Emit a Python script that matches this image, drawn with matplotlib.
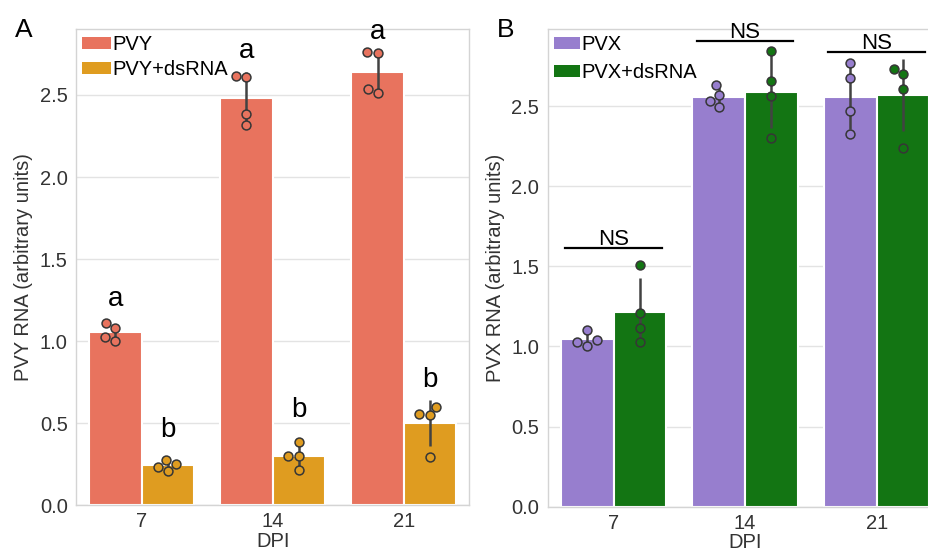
import numpy as np
import matplotlib
matplotlib.use("Agg")
import matplotlib.pyplot as plt
from matplotlib.patches import Patch

plt.rcParams["font.family"] = ["Liberation Sans", "DejaVu Sans"]

# ── Data ─────────────────────────────────────────────────────────────────────

DPI_LABELS = ["7", "14", "21"]

# panel A: PVY RNA, 4 replicates per time point
PVY = [[1.11, 1.08, 1.024, 0.998],
       [2.618, 2.61, 2.386, 2.317],
       [2.764, 2.754, 2.538, 2.512]]
PVY_DS = [[0.276, 0.25, 0.235, 0.209],
          [0.388, 0.302, 0.302, 0.215],
          [0.601, 0.555, 0.549, 0.293]]
PVY_LETTERS = ["a", "a", "a"]
PVY_DS_LETTERS = ["b", "b", "b"]
PVY_LETTER_Y = [1.215, 2.726, 2.843]
PVY_DS_LETTER_Y = [0.418, 0.540, 0.723]

# panel B: PVX RNA
PVX = [[1.104, 1.04, 1.03, 1.006],
       [2.63, 2.567, 2.531, 2.496],
       [2.771, 2.673, 2.469, 2.327]]
PVX_DS = [[1.511, 1.208, 1.113, 1.029],
          [2.844, 2.656, 2.563, 2.302],
          [2.734, 2.698, 2.609, 2.24]]
PVX_NS = ["NS", "NS", "NS"]
PVX_NS_Y = [1.6125, 2.904, 2.84]

# ── Style ────────────────────────────────────────────────────────────────────

C_PVY = "#E8735E"
C_PVY_DS = "#DF9C20"
C_PVX = "#977ECE"
C_PVX_DS = "#137513"
ERR_COLOR = "#424242"
DOT_EDGE = "#363636"
TICK_COLOR = "#333333"
FS = 14.5
BAR_W = 0.4
MS = 6.4
MEW = 1.1


def swarm_offsets(values, ax, diam_px):
    """beeswarm layout like seaborn, returns x offsets in data units"""
    to_px = ax.transData.transform
    ys = np.array([to_px((0, v))[1] for v in values])
    px_per_x = to_px((1, 0))[0] - to_px((0, 0))[0]
    order = np.argsort(ys)
    placed = []
    xs = np.zeros(len(values))
    for i in order:
        y = ys[i]
        neigh = [(px, py) for px, py in placed if abs(py - y) < diam_px]
        cands = [0.0]
        left = True
        for px, py in neigh:
            dx = np.sqrt(max(diam_px ** 2 - (y - py) ** 2, 0)) * 1.05
            cands.extend([px - dx, px + dx] if left else [px + dx, px - dx])
            left = not left
        cands = sorted(cands, key=abs)
        for c in cands:
            if all((c - px) ** 2 + (y - py) ** 2 >= diam_px ** 2 * 0.99
                   for px, py in neigh):
                xs[i] = c
                break
        placed.append((xs[i], y))
    return xs / px_per_x


def draw_panel(ax, series, colors, labels, ylim, ylabel, legend_spacing, handle_len):
    ax.set_xlim(-0.5, 2.5)
    ax.set_ylim(*ylim)
    ax.set_axisbelow(True)
    ax.yaxis.grid(True, color="#e3e3e3", lw=1.0)
    for sp in ax.spines.values():
        sp.set_color("#d4d4d4")
        sp.set_linewidth(1.0)

    diam = (MS + MEW) * ax.figure.dpi / 72.0
    x = np.arange(len(DPI_LABELS))
    for k, (vals, col) in enumerate(zip(series, colors)):
        xs = x + (k - 0.5) * BAR_W
        means = [np.mean(v) for v in vals]
        sds = [np.std(v, ddof=1) for v in vals]
        ax.bar(xs, means, width=BAR_W, color=col, edgecolor="white",
               linewidth=1.5, zorder=2)
        for xi, v, m, s in zip(xs, vals, means, sds):
            ax.plot([xi, xi], [m - s, m + s], color=ERR_COLOR, lw=1.8,
                    solid_capstyle="butt", zorder=3)
            off = swarm_offsets(v, ax, diam)
            ax.plot(xi + off, v, "o", ms=MS, mfc=col, mec=DOT_EDGE, mew=MEW,
                    zorder=4)

    ax.set_xticks(x)
    ax.set_xticklabels(DPI_LABELS)
    ax.set_yticks(np.arange(0, 2.51, 0.5))
    ax.set_yticklabels([f"{t:.1f}" for t in np.arange(0, 2.51, 0.5)])
    ax.tick_params(length=0, labelsize=FS, labelcolor=TICK_COLOR)
    ax.tick_params(axis="x", pad=5)
    ax.tick_params(axis="y", pad=6)
    ax.set_xlabel("DPI", fontsize=FS, color=TICK_COLOR, labelpad=0.5)
    ax.set_ylabel(ylabel, fontsize=FS, color=TICK_COLOR, labelpad=5)

    handles = [Patch(facecolor=c, edgecolor="none") for c in colors]
    ax.legend(handles, labels, loc="upper left", frameon=False, fontsize=FS,
              borderaxespad=0.15, borderpad=0.15, handletextpad=0.05,
              handlelength=handle_len, handleheight=0.55,
              labelspacing=legend_spacing)


fig = plt.figure(figsize=(9.29, 5.53), dpi=100)
fig.patch.set_facecolor("white")

ax_a = fig.add_axes([76 / 929, 1 - 505.3 / 553, (469.3 - 76) / 929, (505.3 - 29.3) / 553])
ax_b = fig.add_axes([547.7 / 929, 1 - 506.7 / 553, (942.5 - 547.7) / 929, (506.7 - 29.3) / 553])

draw_panel(ax_a, [PVY, PVY_DS], [C_PVY, C_PVY_DS], ["PVY", "PVY+dsRNA"],
           (0, 2.90), "PVY RNA (arbitrary units)", 0.3, 1.45)
draw_panel(ax_b, [PVX, PVX_DS], [C_PVX, C_PVX_DS], ["PVX", "PVX+dsRNA"],
           (0, 2.98), "PVX RNA (arbitrary units)", 0.45, 1.3)

# significance letters (panel A)
for i in range(len(DPI_LABELS)):
    ax_a.text(i - 0.5 * BAR_W, PVY_LETTER_Y[i], PVY_LETTERS[i], fontsize=20,
              ha="center", va="baseline", color="black")
    ax_a.text(i + 0.5 * BAR_W, PVY_DS_LETTER_Y[i], PVY_DS_LETTERS[i], fontsize=20,
              ha="center", va="baseline", color="black")

# NS brackets (panel B)
for i in range(len(DPI_LABELS)):
    ax_b.plot([i - 0.367, i + 0.367], [PVX_NS_Y[i]] * 2, color="black", lw=1.6,
              clip_on=False, zorder=5)
    ax_b.annotate(PVX_NS[i], (i, PVX_NS_Y[i]), xytext=(0, 2.2),
                  textcoords="offset points", ha="center", va="baseline",
                  fontsize=16, color="black", annotation_clip=False)

fig.text(15 / 929, 1 - 37 / 553, "A", fontsize=19, va="baseline", ha="left")
fig.text(497 / 929, 1 - 37 / 553, "B", fontsize=19, va="baseline", ha="left")

fig.savefig("out.png", dpi=100, facecolor="white")
